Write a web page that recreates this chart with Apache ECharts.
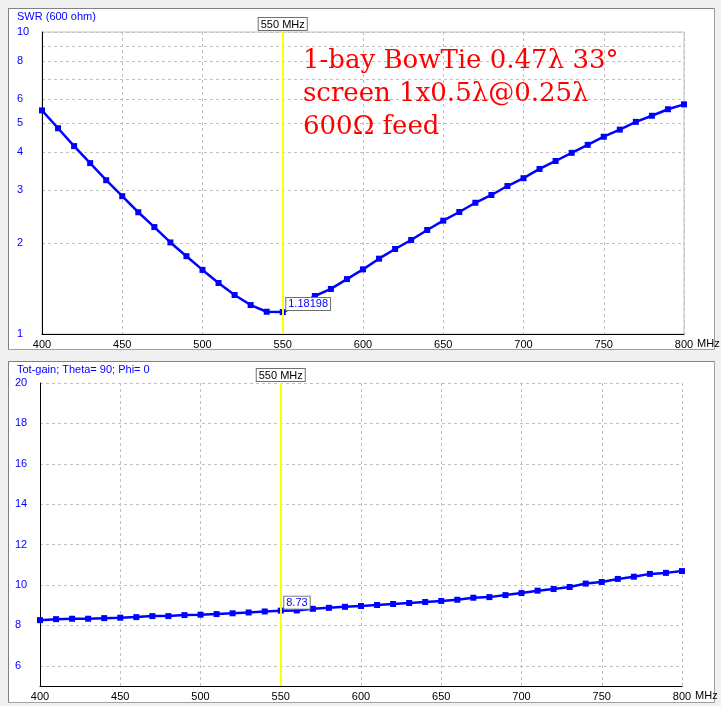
<!DOCTYPE html>
<html>
<head>
<meta charset="utf-8">
<script src="https://cdn.jsdelivr.net/npm/echarts@6/dist/echarts.min.js"></script>
<style>
html,body{margin:0;padding:0;background:#f0f0f0;}
#c{width:721px;height:706px;}
</style>
</head>
<body>
<div id="c"></div>
<script>
const freqs = [400,410,420,430,440,450,460,470,480,490,500,510,520,530,540,550,560,570,580,590,600,610,620,630,640,650,660,670,680,690,700,710,720,730,740,750,760,770,780,790,800];
const swr = [5.50,4.80,4.19,3.68,3.23,2.86,2.53,2.26,2.01,1.81,1.63,1.475,1.346,1.247,1.185,1.18198,1.25,1.336,1.41,1.52,1.637,1.776,1.912,2.048,2.21,2.373,2.535,2.72,2.886,3.09,3.28,3.52,3.74,3.98,4.23,4.50,4.75,5.04,5.28,5.55,5.76];
const gain = [8.26,8.31,8.33,8.33,8.36,8.38,8.41,8.46,8.46,8.51,8.53,8.56,8.60,8.64,8.69,8.73,8.74,8.82,8.87,8.92,8.96,9.01,9.06,9.11,9.16,9.21,9.27,9.37,9.40,9.50,9.60,9.72,9.80,9.90,10.07,10.15,10.30,10.41,10.55,10.60,10.69];
const swrGridValues = [1,2,3,4,5,6,7,8,9,10];
const swrLabelValues = [1,2,3,4,5,6,8,10];
const gainTickValues = [6,8,10,12,14,16,18,20];
const markerFreq = 550;
const swrTitle = 'SWR (600 ohm)';
const gainTitle = 'Tot-gain; Theta= 90; Phi= 0';
const noteLines = ['1-bay BowTie 0.47λ 33°', 'screen 1x0.5λ@0.25λ', '600Ω feed'];

const BLUE = '#0000ff';
const FONT = 'Liberation Sans';
const swrData = freqs.map((f, i) => [f, swr[i]]);
const gainData = freqs.map((f, i) => [f, gain[i]]);
const swrIdx = freqs.indexOf(markerFreq);

function xAxisCfg(gridIndex) {
  return {
    type: 'value', gridIndex, min: 400, max: 800, interval: 50,
    name: 'MHz', nameLocation: 'end', nameGap: 1,
    nameTextStyle: { color: '#000', fontFamily: FONT, fontSize: 11, verticalAlign: 'top', padding: [4, 0, 0, 0] },
    axisLine: { show: true, lineStyle: { color: '#000', width: 1 } },
    axisTick: { show: false },
    axisLabel: { color: '#000', fontFamily: FONT, fontSize: 11, margin: 5 },
    splitLine: { show: true, lineStyle: { color: '#c0c0c0', type: [3, 3], width: 1 } }
  };
}

function markerLine() {
  return {
    silent: true, symbol: ['none', 'none'],
    lineStyle: { color: '#ffff00', width: 2, type: 'solid' },
    label: {
      show: true, position: 'end', formatter: markerFreq + ' MHz', distance: 2,
      color: '#000', fontFamily: FONT, fontSize: 11,
      backgroundColor: '#fff', borderColor: '#707070', borderWidth: 1, padding: [1, 2, 0, 2]
    },
    data: [{ xAxis: markerFreq }]
  };
}

function valueMark(coord, text) {
  return {
    symbol: 'rect', symbolSize: 1, itemStyle: { color: 'transparent' },
    label: {
      show: true, position: 'right', distance: 3, offset: [0, -8], formatter: text,
      color: BLUE, fontFamily: FONT, fontSize: 11,
      backgroundColor: '#fff', borderColor: '#707070', borderWidth: 1, padding: [1, 2, 0, 2]
    },
    data: [{ coord }]
  };
}

const option = {
  animation: false,
  backgroundColor: '#f0f0f0',
  graphic: [
    { type: 'rect', shape: { x: 8.5, y: 8.5, width: 706, height: 341 }, style: { fill: '#fff', stroke: '#a0a0a0', lineWidth: 1 }, z: -10 },
    { type: 'polyline', shape: { points: [[8.5, 349.5], [8.5, 8.5], [714.5, 8.5]] }, style: { fill: null, stroke: '#808080', lineWidth: 1 }, z: -9 },
    { type: 'rect', shape: { x: 8.5, y: 361.5, width: 706, height: 341 }, style: { fill: '#fff', stroke: '#a0a0a0', lineWidth: 1 }, z: -10 },
    { type: 'polyline', shape: { points: [[8.5, 702.5], [8.5, 361.5], [714.5, 361.5]] }, style: { fill: null, stroke: '#808080', lineWidth: 1 }, z: -9 }
  ],
  title: [
    { text: swrTitle, left: 17, top: 11, padding: 0, textStyle: { color: BLUE, fontFamily: FONT, fontSize: 11, fontWeight: 'normal' } },
    { text: gainTitle, left: 17, top: 364, padding: 0, textStyle: { color: BLUE, fontFamily: FONT, fontSize: 11, fontWeight: 'normal' } },
    { text: noteLines.join('\n'), left: 303, top: 45, padding: 0, textStyle: { color: '#ff0000', fontFamily: 'DejaVu Serif', fontSize: 26, fontWeight: 'normal', lineHeight: 33 } }
  ],
  grid: [
    { left: 42, right: 37, top: 32, height: 302, outerBoundsMode: 'none', show: true, borderColor: '#c0c0c0', borderWidth: 1, backgroundColor: 'transparent' },
    { left: 40, right: 39, top: 383, height: 303, outerBoundsMode: 'none' }
  ],
  xAxis: [xAxisCfg(0), xAxisCfg(1)],
  yAxis: [
    {
      type: 'log', gridIndex: 0, min: 1, max: 10, logBase: 10,
      axisLine: { show: true, lineStyle: { color: '#000', width: 1 } },
      axisTick: { show: false, customValues: swrGridValues },
      axisLabel: { customValues: swrLabelValues, color: BLUE, fontFamily: FONT, fontSize: 11, align: 'left', margin: 25 },
      splitLine: { show: true, lineStyle: { color: '#c0c0c0', type: [3, 3], width: 1 } },
      minorSplitLine: { show: false }
    },
    {
      type: 'value', gridIndex: 1, min: 5, max: 20,
      axisLine: { show: true, lineStyle: { color: '#000', width: 1 } },
      axisTick: { show: false, customValues: gainTickValues },
      axisLabel: { customValues: gainTickValues, color: BLUE, fontFamily: FONT, fontSize: 11, align: 'left', margin: 25 },
      splitLine: { show: true, lineStyle: { color: '#c0c0c0', type: [3, 3], width: 1 } }
    }
  ],
  series: [
    {
      type: 'line', xAxisIndex: 0, yAxisIndex: 0, data: swrData,
      symbol: 'rect', symbolSize: 6, showAllSymbol: true,
      lineStyle: { color: BLUE, width: 2.5 }, itemStyle: { color: BLUE },
      markLine: markerLine(),
      markPoint: valueMark([markerFreq, swr[swrIdx]], String(swr[swrIdx])),
      z: 3
    },
    {
      type: 'line', xAxisIndex: 1, yAxisIndex: 1, data: gainData,
      symbol: 'rect', symbolSize: 6, showAllSymbol: true,
      lineStyle: { color: BLUE, width: 2.5 }, itemStyle: { color: BLUE },
      markLine: markerLine(),
      markPoint: valueMark([markerFreq, gain[swrIdx]], gain[swrIdx].toFixed(2)),
      z: 3
    }
  ]
};

const chart = echarts.init(document.getElementById('c'), null, { renderer: 'canvas' });
chart.setOption(option);
</script>
</body>
</html>
